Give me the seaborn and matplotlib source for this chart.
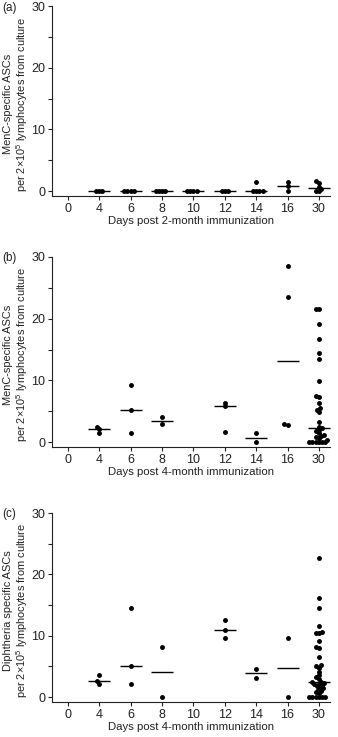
import matplotlib
matplotlib.use('Agg')
import matplotlib.pyplot as plt
import seaborn as sns
import pandas as pd

# ---- data ----
days = ['0', '4', '6', '8', '10', '12', '14', '16', '30']

panel_a = {
    '4': [0, 0, 0],
    '6': [0, 0, 0, 0],
    '8': [0, 0, 0, 0],
    '10': [0, 0, 0, 0],
    '12': [0, 0, 0],
    '14': [0, 0, 0, 0, 1.4],
    '16': [1.5, 0.85, 0],
    '30': [0, 0, 0.3, 0.7, 1.3, 1.6],
}

panel_b = {
    '4': [2.4, 1.4, 2.1],
    '6': [9.3, 5.2, 1.4],
    '8': [2.9, 4.0],
    '12': [6.4, 5.9, 1.6],
    '14': [0, 1.4],
    '16': [28.6, 23.5, 2.8, 2.9],
    '30': [21.5, 21.5, 19.2, 16.7, 14.4, 13.4, 9.9, 7.4, 7.3, 6.3, 5.5,
           5.2, 4.8, 3.3, 2.5, 2.2, 2.0, 1.8, 1.5, 1.2, 1.0, 0.9, 0.6,
           0.4, 0, 0, 0, 0, 0, 0],
}

panel_c = {
    '4': [3.6, 2.2, 2.6],
    '6': [14.6, 5.0, 2.1],
    '8': [8.1, 0],
    '12': [12.6, 10.9, 9.6],
    '14': [4.6, 3.1],
    '16': [9.6, 0],
    '30': [22.6, 16.1, 14.6, 11.6, 10.6, 10.5, 10.4, 9.2, 8.1, 8.0, 6.6, 5.2,
           5.0, 4.8, 4.1, 3.6, 3.3, 3.0, 2.5, 2.4, 2.3, 2.2, 2.1,
           2.0, 1.8, 1.6, 1.4, 1.2, 1.0, 0.8, 0.6, 0, 0, 0, 0, 0, 0],
}

y_ticks = [0, 5, 10, 15, 20, 25, 30]
y_ticklabels = ['0', '', '10', '', '20', '', '30']

xlabels = ['Days post 2-month immunization',
           'Days post 4-month immunization',
           'Days post 4-month immunization']
ylabel_top = ['MenC-specific ASCs', 'MenC-specific ASCs', 'Diphtheria specific ASCs']
ylabel_bottom = 'per 2\u00d710$^{5}$ lymphocytes from culture'
panel_labels = ['(a)', '(b)', '(c)']

# ---- style ----
sns.set_theme(style='ticks')
plt.rcParams['font.family'] = ['Liberation Sans', 'DejaVu Sans']
plt.rcParams['mathtext.fontset'] = 'custom'
plt.rcParams['mathtext.rm'] = 'Liberation Sans'
plt.rcParams['mathtext.it'] = 'Liberation Sans:italic'
plt.rcParams['mathtext.bf'] = 'Liberation Sans:bold'
TXT = '#222222'

fig = plt.figure(figsize=(3.38, 7.37), dpi=100)
positions = [
    [0.154, 0.734, 0.822, 0.2578],
    [0.154, 0.3935, 0.822, 0.2578],
    [0.154, 0.0475, 0.822, 0.2564],
]

LAYOUT_SIZE = 2.2      # marker size used by seaborn to lay out the swarm
MARKER_AREA = 12.5     # displayed marker area (pt^2); points may overlap

for data, pos, xl, yt, pl in zip([panel_a, panel_b, panel_c], positions,
                                 xlabels, ylabel_top, panel_labels):
    ax = fig.add_axes(pos)
    df = pd.DataFrame([(d, v) for d, vals in data.items() for v in vals],
                      columns=['day', 'value'])
    sns.swarmplot(data=df, x='day', y='value', order=days, color='black',
                  size=LAYOUT_SIZE, ax=ax, zorder=3, linewidth=0)
    ax.set_xlim(-0.5, 8.35)
    ax.set_ylim(-0.8, 30)
    fig.canvas.draw()
    for coll in ax.collections:
        if 'draw' in coll.__dict__:
            del coll.draw
        coll.set_sizes([MARKER_AREA])
    sns.pointplot(data=df, x='day', y='value', order=days, estimator='median',
                  errorbar=None, linestyle='none', marker='_', markersize=16.5,
                  markeredgewidth=1.0, color='black', ax=ax)
    ax.set_xlim(-0.5, 8.35)
    ax.set_ylim(-0.8, 30)
    ax.set_yticks(y_ticks)
    ax.set_yticklabels(y_ticklabels)
    sns.despine(ax=ax)
    for s in ['left', 'bottom']:
        ax.spines[s].set_linewidth(0.8)
        ax.spines[s].set_color(TXT)
    ax.tick_params(length=3, width=0.8, labelsize=9, pad=2, colors=TXT)
    ax.set_xlabel(xl, fontsize=8.2, labelpad=1, color=TXT)
    ax.set_ylabel(yt + '\n' + ylabel_bottom, fontsize=7.9, color=TXT,
                  linespacing=1.08)
    ax.yaxis.set_label_coords(-0.081, 0.485)
    top_fig = pos[1] + pos[3]
    fig.text(0.006, top_fig - 0.002, pl, fontsize=8.4, va='center', ha='left',
             color=TXT)

fig.savefig('out.png', dpi=100)
